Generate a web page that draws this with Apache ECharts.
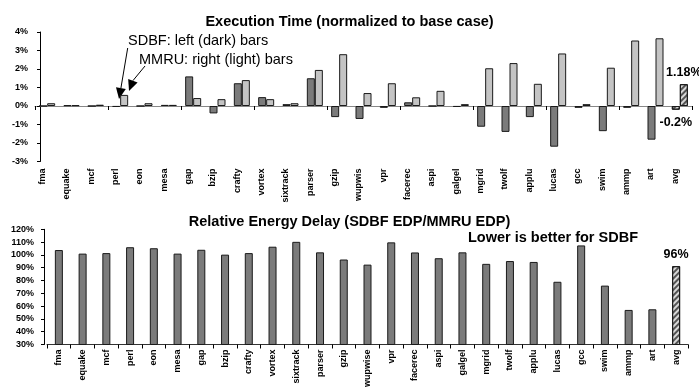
<!DOCTYPE html>
<html><head><meta charset="utf-8">
<script src="https://cdn.jsdelivr.net/npm/echarts@6/dist/echarts.min.js"></script>
<style>html,body{margin:0;padding:0;background:#fff}#c{width:699px;height:390px}</style>
</head><body><div id="c"></div>
<script>
const categoriesTop = ['fma','equake','mcf','perl','eon','mesa','gap','bzip','crafty','vortex','sixtrack','parser','gzip','wupwis','vpr','facerec','aspi','galgel','mgrid','twolf','applu','lucas','gcc','swim','ammp','art','avg'];
const categoriesBottom = ['fma','equake','mcf','perl','eon','mesa','gap','bzip','crafty','vortex','sixtrack','parser','gzip','wupwise','vpr','facerec','aspi','galgel','mgrid','twolf','applu','lucas','gcc','swim','ammp','art','avg'];
const sdbfExecTime = [0, 0.04, 0, -0.05, 0, 0.06, 1.6, -0.4, 1.23, 0.48, 0.1, 1.5, -0.6, -0.7, -0.1, 0.2, 0, -0.05, -1.12, -1.4, -0.6, -2.2, -0.1, -1.36, -0.1, -1.82, -0.2];
const mmruExecTime = [0.15, 0.04, 0.07, 0.6, 0.15, 0.06, 0.43, 0.37, 1.4, 0.37, 0.15, 1.95, 2.8, 0.7, 1.23, 0.47, 0.82, 0.1, 2.04, 2.32, 1.2, 2.84, 0.1, 2.07, 3.54, 3.66, 1.18];
const relativeEDP = [103.8, 101, 101.4, 106, 105.2, 101, 104, 100.2, 101.4, 106.4, 110.2, 102, 96.4, 92.4, 109.8, 101.9, 97.4, 102, 93, 95.2, 94.5, 79, 107.4, 76, 57, 57.5, 91.2];
const execAxis = [-3, 4, 1];
const edpAxis = [30, 120, 10];
const avgLabelSdbf = '-0.2%';
const avgLabelMmru = '1.18%';
const avgLabelEDP = '96%';
const titles = ['Execution Time (normalized to base case)', 'Relative Energy Delay (SDBF EDP/MMRU EDP)'];
const notes = ['SDBF: left (dark) bars', 'MMRU: right (light) bars', 'Lower is better for SDBF'];

const FONT = '"Liberation Sans", Arial, sans-serif';
const DARK = '#7b7b7b', LIGHT = '#c4c4c4', EDGE = '#1a1a1a';
const hatch = {symbol:'rect', symbolSize:1, dashArrayX:[1,0], dashArrayY:[1.2,1.8], rotation:-Math.PI/4, color:'rgba(40,40,40,0.75)'};
const lastIdx = categoriesTop.length - 1;
function items(arr, labelText, pos, dist) {
  return arr.map((v, i) => {
    if (i !== lastIdx) return v;
    return {value: v, itemStyle: {color: '#d8d8d8', decal: hatch},
      label: {show: true, position: pos, distance: dist, formatter: labelText,
        fontFamily: FONT, fontWeight: 'bold', fontSize: 12.5, color: '#000'}};
  });
}
const chart = echarts.init(document.getElementById('c'), null, {renderer:'canvas'});
const labelStyle = {fontFamily: FONT, fontWeight: 'bold', color: '#000'};
const titleStyle = {fontFamily: FONT, fontWeight: 'bold', fontSize: 14.5, color: '#000'};
chart.setOption({
  animation: false,
  backgroundColor: '#fff',
  title: [
    {text: titles[0], left: 'center', top: 9, textStyle: titleStyle},
    {text: titles[1], left: 'center', top: 209, textStyle: titleStyle}
  ],
  grid: [
    {left: 35, right: 7, top: 32, height: 129.5},
    {left: 47, right: 11, top: 229.3, height: 126.5}
  ],
  xAxis: [
    {type: 'category', gridIndex: 0, data: categoriesTop, position: 'bottom',
      axisLine: {show: false, onZero: false}, axisTick: {show: false},
      axisLabel: Object.assign({rotate: 90, fontSize: 9, margin: 7, interval: 0, verticalAlign: 'bottom'}, labelStyle)},
    {type: 'category', gridIndex: 0, data: categoriesTop, position: 'bottom',
      axisLine: {show: true, onZero: true, lineStyle: {color: '#888', width: 1}},
      axisTick: {show: true, length: 4, lineStyle: {color: '#000'}}, axisLabel: {show: false}},
    {type: 'category', gridIndex: 1, data: categoriesBottom, position: 'bottom',
      axisLine: {show: true, lineStyle: {color: '#333', width: 1}},
      axisTick: {show: true, length: 4, lineStyle: {color: '#000'}},
      axisLabel: Object.assign({rotate: 90, fontSize: 9, margin: 5, interval: 0}, labelStyle)}
  ],
  yAxis: [
    {type: 'value', gridIndex: 0, min: execAxis[0], max: execAxis[1], interval: execAxis[2], offset: -5,
      axisLine: {show: true, lineStyle: {color: '#000'}}, axisTick: {show: true, length: 3, lineStyle: {color: '#000'}},
      splitLine: {show: false},
      axisLabel: Object.assign({fontSize: 9, margin: 12, formatter: '{value}%'}, labelStyle)},
    {type: 'value', gridIndex: 1, min: edpAxis[0], max: edpAxis[1], interval: edpAxis[2], offset: 3,
      axisLine: {show: true, lineStyle: {color: '#000'}}, axisTick: {show: true, length: 3, lineStyle: {color: '#000'}},
      splitLine: {show: false},
      axisLabel: Object.assign({fontSize: 9, margin: 10, formatter: '{value}%'}, labelStyle)}
  ],
  series: [
    {name: 'SDBF', type: 'bar', xAxisIndex: 0, yAxisIndex: 0, barWidth: 8, barGap: '0%',
      itemStyle: {color: DARK, borderColor: EDGE, borderWidth: 1},
      data: items(sdbfExecTime, avgLabelSdbf, 'bottom', 6)},
    {name: 'MMRU', type: 'bar', xAxisIndex: 0, yAxisIndex: 0, barWidth: 8, barGap: '0%',
      itemStyle: {color: LIGHT, borderColor: EDGE, borderWidth: 1},
      data: items(mmruExecTime, avgLabelMmru, 'top', 5)},
    {name: 'EDP', type: 'bar', xAxisIndex: 2, yAxisIndex: 1, barWidth: 8,
      itemStyle: {color: DARK, borderColor: EDGE, borderWidth: 1},
      data: items(relativeEDP, avgLabelEDP, 'top', 5)}
  ],
  graphic: [
    {type: 'text', style: {x: 128, y: 41, text: notes[0], font: '14.5px ' + FONT, fill: '#000', textVerticalAlign: 'middle'}},
    {type: 'text', style: {x: 139, y: 60, text: notes[1], font: '14.5px ' + FONT, fill: '#000', textVerticalAlign: 'middle'}},
    {type: 'text', style: {x: 468, y: 238, text: notes[2], font: 'bold 14.5px ' + FONT, fill: '#000', textVerticalAlign: 'middle'}},
    {type: 'line', shape: {x1: 127.7, y1: 48, x2: 120.9, y2: 88.2}, style: {stroke: '#000', lineWidth: 1}},
    {type: 'polygon', shape: {points: [[119, 99], [125.8, 89.1], [116, 87.3]]}, style: {fill: '#000'}},
    {type: 'line', shape: {x1: 145, y1: 66, x2: 132.9, y2: 80.7}, style: {stroke: '#000', lineWidth: 1}},
    {type: 'polygon', shape: {points: [[129, 91], [137.6, 82.5], [128.2, 78.9]]}, style: {fill: '#000'}}
  ]
});
</script></body></html>
